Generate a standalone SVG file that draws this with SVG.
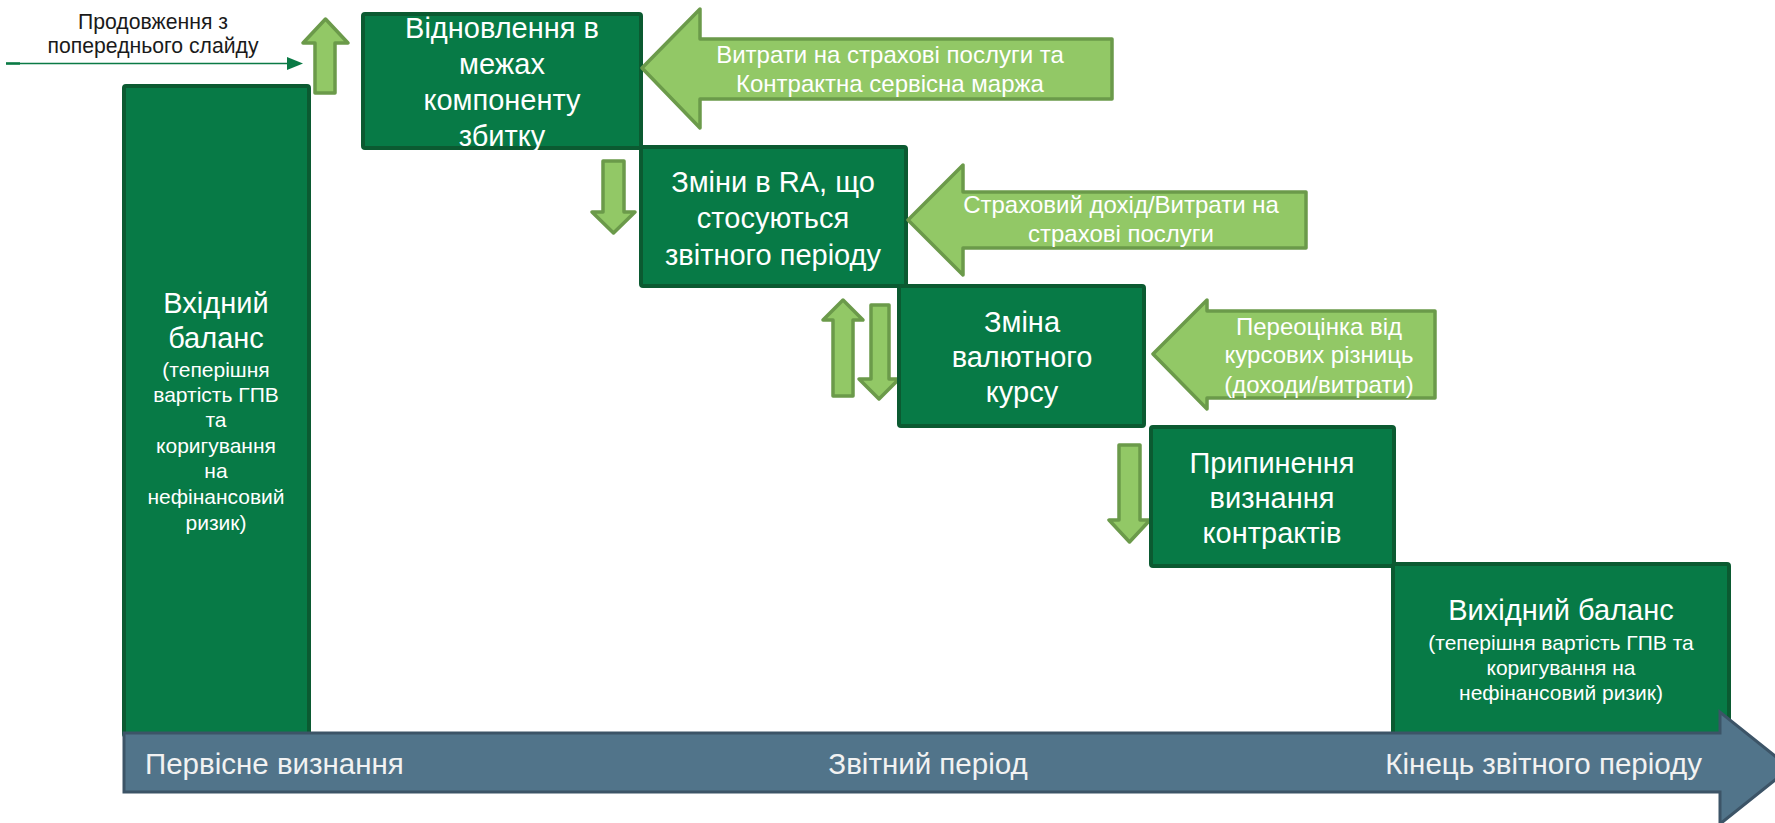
<svg xmlns="http://www.w3.org/2000/svg" width="1775" height="823" viewBox="0 0 1775 823">
<style>
.box{fill:#077A46;stroke:#0B5A31;stroke-width:4}
.la{fill:#92C866;stroke:#6B9A4A;stroke-width:3.5;stroke-linejoin:round}
.t{font-family:"Liberation Sans",Arial,sans-serif;fill:#fff;text-anchor:middle}
.b{font-size:29px}
.s{font-size:21px}
.a{font-size:24px}
.tl{font-family:"Liberation Sans",Arial,sans-serif;fill:#F2F2F2;font-size:29.5px}
</style>
<rect width="1775" height="823" fill="#fff"/>
<g id="continuation">
<text font-family="Liberation Sans, Arial, sans-serif" font-size="21.2" fill="#1a1a1a" text-anchor="middle"><tspan x="153" y="29">Продовження з</tspan><tspan x="153" y="53">попереднього слайду</tspan></text>
</g>
<g id="connectors">
<line x1="6" y1="63.5" x2="289" y2="63.5" stroke="#0A7A45" stroke-width="1.5"/>
<line x1="6" y1="63.5" x2="20" y2="63.5" stroke="#0A7A45" stroke-width="2.5"/>
<polygon points="287,57 303,63.5 287,70" fill="#0A7A45"/>
<polygon class="la" points="325.5,19 348,43 335,43 335,93 315,93 315,43 303,43"/>
<polygon class="la" points="592,212 603,212 603,161 624,161 624,212 635,212 613.5,233"/>
<polygon class="la" points="843,300 863,320 853,320 853,396 833,396 833,320 823,320"/>
<polygon class="la" points="859,379 871,379 871,305 889,305 889,379 899,379 879,399"/>
<polygon class="la" points="1109,520 1119,520 1119,445 1140,445 1140,520 1150,520 1129.5,542"/>
</g>
<g id="opening-balance">
<rect class="box" x="124" y="86" width="185" height="650" rx="2"/>
<text class="t"><tspan class="b" x="216" y="313">Вхідний</tspan><tspan class="b" x="216" y="348">баланс</tspan><tspan class="s" x="216" y="377">(теперішня</tspan><tspan class="s" x="216" y="402">вартість ГПВ</tspan><tspan class="s" x="216" y="427">та</tspan><tspan class="s" x="216" y="453">коригування</tspan><tspan class="s" x="216" y="478">на</tspan><tspan class="s" x="216" y="504">нефінансовий</tspan><tspan class="s" x="216" y="530">ризик)</tspan></text>
</g>
<g id="recovery">
<rect class="box" x="363" y="14" width="278" height="134" rx="2"/>
<text class="t b"><tspan x="502" y="38">Відновлення в</tspan><tspan x="502" y="74">межах</tspan><tspan x="502" y="110">компоненту</tspan><tspan x="502" y="146">збитку</tspan></text>
</g>
<g id="ra-change">
<rect class="box" x="641" y="147" width="265" height="139" rx="2"/>
<text class="t b"><tspan x="773" y="192">Зміни в RA, що</tspan><tspan x="773" y="228">стосуються</tspan><tspan x="773" y="265">звітного періоду</tspan></text>
</g>
<g id="fx-change">
<rect class="box" x="899" y="286" width="245" height="140" rx="2"/>
<text class="t b"><tspan x="1022" y="332">Зміна</tspan><tspan x="1022" y="367">валютного</tspan><tspan x="1022" y="402">курсу</tspan></text>
</g>
<g id="derecognition">
<rect class="box" x="1151" y="427" width="243" height="139" rx="2"/>
<text class="t b"><tspan x="1272" y="473">Припинення</tspan><tspan x="1272" y="508">визнання</tspan><tspan x="1272" y="543">контрактів</tspan></text>
</g>
<g id="closing-balance">
<rect class="box" x="1393" y="564" width="336" height="172" rx="2"/>
<text class="t"><tspan class="b" x="1561" y="620">Вихідний баланс</tspan><tspan class="s" x="1561" y="650">(теперішня вартість ГПВ та</tspan><tspan class="s" x="1561" y="675">коригування на</tspan><tspan class="s" x="1561" y="700">нефінансовий ризик)</tspan></text>
</g>
<g id="arrow-services">
<polygon class="la" points="642,68 700,9 700,39 1112,39 1112,99 700,99 700,128"/>
<text class="t a"><tspan x="890" y="63">Витрати на страхові послуги та</tspan><tspan x="890" y="92">Контрактна сервісна маржа</tspan></text>
</g>
<g id="arrow-revenue">
<polygon class="la" points="908,220 963,165 963,192 1306,192 1306,248 963,248 963,275"/>
<text class="t a"><tspan x="1121" y="213">Страховий дохід/Витрати на</tspan><tspan x="1121" y="242">страхові послуги</tspan></text>
</g>
<g id="arrow-fx">
<polygon class="la" points="1153,354 1207,300 1207,311 1435,311 1435,398 1207,398 1207,409"/>
<text class="t a"><tspan x="1319" y="335">Переоцінка від</tspan><tspan x="1319" y="363">курсових різниць</tspan><tspan x="1319" y="393">(доходи/витрати)</tspan></text>
</g>
<g id="timeline">
<polygon points="124,733 1720,733 1720,712 1790,768 1720,824 1720,792 124,792" fill="#51748A" stroke="#3C5467" stroke-width="3" stroke-linejoin="miter"/>
<text class="tl" x="145" y="774">Первісне визнання</text>
<text class="tl" x="928" y="774" text-anchor="middle">Звітний період</text>
<text class="tl" x="1702" y="774" text-anchor="end">Кінець звітного періоду</text>
</g>
</svg>
